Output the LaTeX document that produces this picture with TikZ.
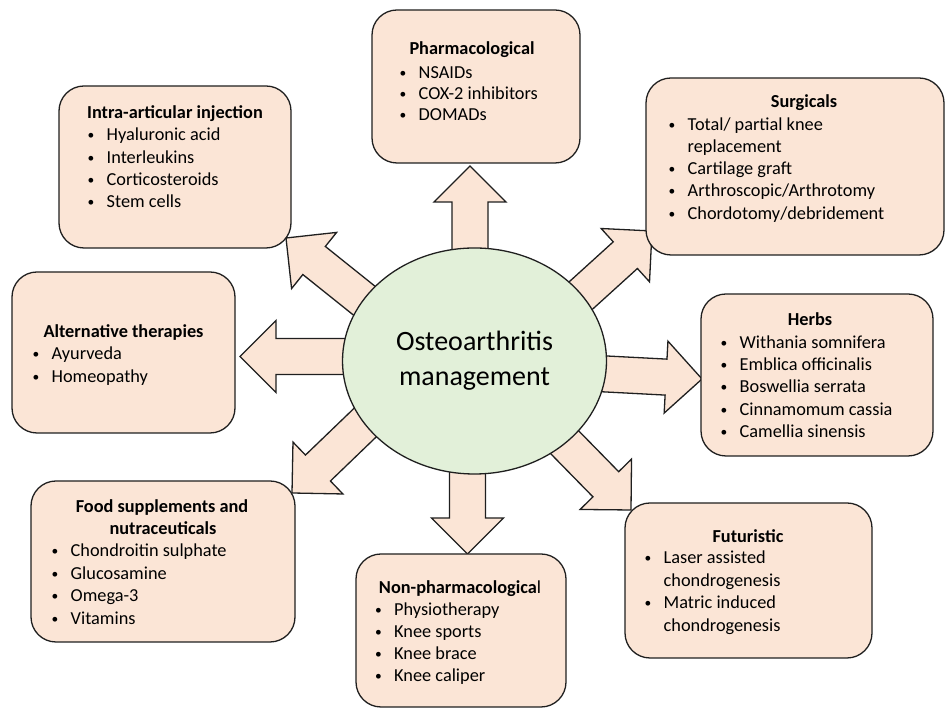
\documentclass[tikz,border=0pt]{standalone}
\usepackage{fontspec}
\setmainfont{Carlito}
\usetikzlibrary{shapes.geometric}
\pgfdeclarelayer{bg}
\pgfsetlayers{bg,main}
\definecolor{peach}{HTML}{FBE5D6}
\definecolor{mint}{HTML}{E2F0D9}
\definecolor{ink}{HTML}{1F1F1F}
\newcommand\bulletmark{\makebox[20pt][l]{\hspace*{1pt}\raisebox{1.3pt}{\fontsize{13.5}{14}\selectfont •}}}
\newcommand\contmark{\hspace*{20pt}}
\newcommand\blockarr[2]{%
  \begin{scope}[shift={(#1)},rotate=#2]
    \draw[barrow] (0,0) -- (-36,36) -- (-36,18) -- (-150,18) -- (-150,-18) -- (-36,-18) -- (-36,-36) -- cycle;
  \end{scope}}
\begin{document}
\begin{tikzpicture}[x=1pt,y=1pt,
  box/.style={draw=ink, line width=1.3pt, fill=peach, rounded corners=25pt, inner sep=0pt},
  txt/.style={inner sep=0pt, font=\fontsize{18.3}{22}\selectfont, text=black},
  ttl/.style={inner sep=0pt, font=\fontsize{18.3}{22}\selectfont\bfseries, text=black, anchor=base},
  itm/.style={txt, anchor=base west},
  barrow/.style={draw=ink, line width=1.3pt, fill=peach, line join=miter}]
\useasboundingbox (0,0) rectangle (945,708);

% centre
\node[ellipse, draw=ink, line width=1.3pt, fill=mint, minimum width=264, minimum height=226,
      inner sep=0pt, align=center, font=\fontsize{28}{35}\selectfont] (core) at (474.5,347)
      {Osteoarthritis\\management};

% boxes
\node[box, minimum width=208, minimum height=153] (pharm) at (476,621.5) {};
\node[box, minimum width=232, minimum height=162] (intra) at (175,541) {};
\node[box, minimum width=298, minimum height=177] (surg) at (795,541.5) {};
\node[box, minimum width=223, minimum height=161] (alt) at (123.5,355.5) {};
\node[box, minimum width=232, minimum height=162] (herb) at (817,333) {};
\node[box, minimum width=264, minimum height=161] (food) at (163,146.5) {};
\node[box, minimum width=210, minimum height=153] (nonph) at (461,77.5) {};
\node[box, minimum width=247, minimum height=155] (fut) at (748.5,127.5) {};

% arrow tips
\coordinate (tUp) at (470,542);
\coordinate (tUL) at (286,470);
\coordinate (tUR) at (652,477);
\coordinate (tL) at (240,351.5);
\coordinate (tR) at (702,329);
\coordinate (tDL) at (292,215);
\coordinate (tD) at (467.5,154);
\coordinate (tDR) at (631,198);

\begin{pgfonlayer}{bg}
  \blockarr{tUp}{90}
  \blockarr{tUL}{141.3}
  \blockarr{tUR}{42.2}
  \blockarr{tL}{180}
  \blockarr{tR}{-3}
  \blockarr{tDL}{223.9}
  \blockarr{tD}{-90}
  \blockarr{tDR}{-45.6}
\end{pgfonlayer}

% Pharmacological
\node[ttl] (pT) at (472,653) {Pharmacological};
\node[itm] (p1) at (398.5,629.5) {\bulletmark NSAIDs};
\node[itm] (p2) at (398.5,608.5) {\bulletmark COX-2 inhibitors};
\node[itm] (p3) at (398.5,587.5) {\bulletmark DOMADs};

% Intra-articular
\node[ttl] (iT) at (175,589.5) {Intra-articular injection};
\node[itm] (i1) at (86.5,567.5) {\bulletmark Hyaluronic acid};
\node[itm] (i2) at (86.5,544.5) {\bulletmark Interleukins};
\node[itm] (i3) at (86.5,522.5) {\bulletmark Corticosteroids};
\node[itm] (i4) at (86.5,500.5) {\bulletmark Stem cells};

% Surgicals
\node[ttl] (sT) at (804,600.5) {Surgicals};
\node[itm] (s1) at (667.5,577.5) {\bulletmark Total/ partial knee};
\node[itm] (s1b) at (667.5,555.5) {\contmark replacement};
\node[itm] (s2) at (667.5,533.5) {\bulletmark Cartilage graft};
\node[itm] (s3) at (667.5,511.5) {\bulletmark Arthroscopic/Arthrotomy};
\node[itm] (s4) at (667.5,488.5) {\bulletmark Chordotomy/debridement};

% Alternative therapies
\node[ttl] (aT) at (123.5,370.5) {Alternative therapies};
\node[itm] (a1) at (31.5,348.5) {\bulletmark Ayurveda};
\node[itm] (a2) at (31.5,325.5) {\bulletmark Homeopathy};

% Herbs
\node[ttl] (hT) at (810,382.5) {Herbs};
\node[itm] (h1) at (719.5,359.5) {\bulletmark Withania somnifera};
\node[itm] (h2) at (719.5,337.5) {\bulletmark Emblica officinalis};
\node[itm] (h3) at (719.5,315.5) {\bulletmark Boswellia serrata};
\node[itm] (h4) at (719.5,292.5) {\bulletmark Cinnamomum cassia};
\node[itm] (h5) at (719.5,270.5) {\bulletmark Camellia sinensis};

% Food supplements
\node[ttl] (fT1) at (162,195.5) {Food supplements and};
\node[ttl] (fT2) at (163,173.5) {nutraceuticals};
\node[itm] (f1) at (50.5,151.5) {\bulletmark Chondroitin sulphate};
\node[itm] (f2) at (50.5,128.5) {\bulletmark Glucosamine};
\node[itm] (f3) at (50.5,106.5) {\bulletmark Omega-3};
\node[itm] (f4) at (50.5,83.5) {\bulletmark Vitamins};

% Non-pharmacological
\node[ttl] (nT) at (460,114.5) {Non-pharmacologica\textmd{l}};
\node[itm] (n1) at (374,92.3) {\bulletmark Physiotherapy};
\node[itm] (n2) at (374,70.3) {\bulletmark Knee sports};
\node[itm] (n3) at (374,48.3) {\bulletmark Knee brace};
\node[itm] (n4) at (374,26.3) {\bulletmark Knee caliper};

% Futuristic
\node[ttl] (uT) at (748,165.3) {Futuristic};
\node[itm] (u1) at (643.5,144) {\bulletmark Laser assisted};
\node[itm] (u1b) at (643.5,121.5) {\contmark chondrogenesis};
\node[itm] (u2) at (643.5,99) {\bulletmark Matric induced};
\node[itm] (u2b) at (643.5,76.5) {\contmark chondrogenesis};
\end{tikzpicture}
\end{document}
